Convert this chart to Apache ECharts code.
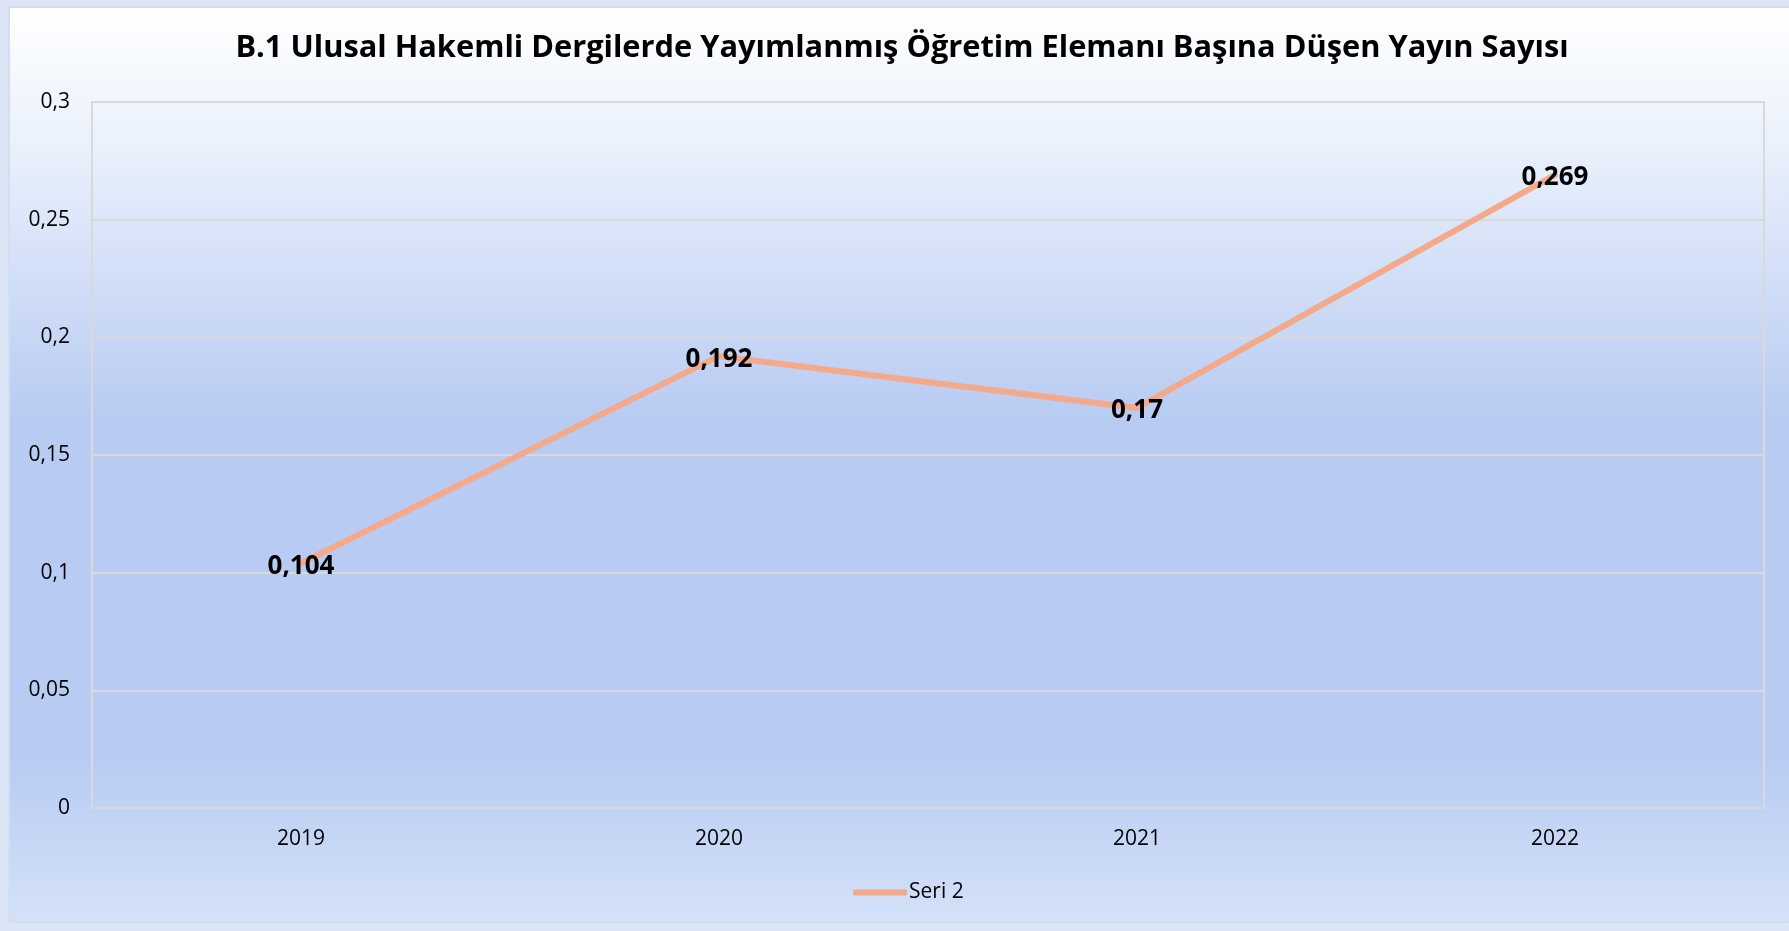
<!DOCTYPE html>
<html>
<head>
<meta charset="utf-8">
<script src="https://cdn.jsdelivr.net/npm/echarts@6/dist/echarts.min.js"></script>
<style>
html,body{margin:0;padding:0;background:#dbe5f5;}
#c{width:1789px;height:931px;}
</style>
</head>
<body>
<div id="c"></div>
<script>
const titleText = 'B.1 Ulusal Hakemli Dergilerde Yayımlanmış Öğretim Elemanı Başına Düşen Yayın Sayısı';
const categories = ['2019', '2020', '2021', '2022'];
const seriesName = 'Seri 2';
const values = [0.104, 0.192, 0.17, 0.269];
const yMin = 0, yMax = 0.3, yStep = 0.05;

const chart = echarts.init(document.getElementById('c'));
const fmt = v => String(+(+v).toFixed(3)).replace('.', ',');
const font = '"Open Sans", "Noto Sans", sans-serif';
const lineColor = '#f4a98b';

chart.setOption({
  backgroundColor: '#dbe5f5',
  textStyle: { fontFamily: font },
  graphic: [{
    type: 'rect', z: -10, silent: true,
    shape: { x: 9, y: 7, width: 1800, height: 915 },
    style: {
      fill: new echarts.graphic.LinearGradient(0, 0, 0, 1, [
        { offset: 0, color: '#ffffff' },
        { offset: 0.15, color: '#eaf1fc' },
        { offset: 0.45, color: '#b8cbf2' },
        { offset: 0.82, color: '#b8cbf2' },
        { offset: 1, color: '#d4e1f8' }
      ]),
      stroke: '#d2def2', lineWidth: 2
    }
  }],
  title: {
    text: titleText,
    left: 902, top: 33, textAlign: 'center', padding: 0,
    textStyle: { fontFamily: font, fontWeight: 'bold', fontSize: 30.8, color: '#000' }
  },
  grid: {
    left: 92, right: 25, top: 102, bottom: 123,
    show: true, borderColor: '#d9d9d9', borderWidth: 2, backgroundColor: 'transparent'
  },
  legend: {
    data: [{ name: seriesName, itemStyle: { color: lineColor, opacity: 1 } }],
    left: 848, top: 877,
    icon: 'roundRect',
    itemWidth: 54, itemHeight: 6, itemGap: 10,
    textStyle: { fontFamily: font, fontSize: 21, color: '#000', padding: [0, 0, 0, -3] }
  },
  xAxis: {
    type: 'category',
    data: categories,
    boundaryGap: true,
    axisLine: { show: true, lineStyle: { color: '#d9d9d9', width: 2 } },
    axisTick: { show: false },
    axisLabel: { fontFamily: font, fontSize: 21, color: '#000', margin: 21 }
  },
  yAxis: {
    type: 'value',
    min: yMin, max: yMax, interval: yStep,
    axisLine: { show: false },
    axisTick: { show: false },
    splitLine: { lineStyle: { color: '#d9d9d9', width: 2 } },
    axisLabel: { fontFamily: font, fontSize: 21, color: '#000', margin: 22, formatter: fmt }
  },
  series: [{
    name: seriesName,
    type: 'line',
    data: values,
    symbol: 'circle',
    symbolSize: 2,
    showSymbol: true,
    lineStyle: { color: lineColor, width: 6, cap: 'round' },
    itemStyle: { color: lineColor },
    label: {
      show: true, position: 'inside', offset: [0, 3],
      fontFamily: font, fontWeight: 'bold', fontSize: 26, color: '#000',
      formatter: p => fmt(p.value)
    }
  }]
});
</script>
</body>
</html>
